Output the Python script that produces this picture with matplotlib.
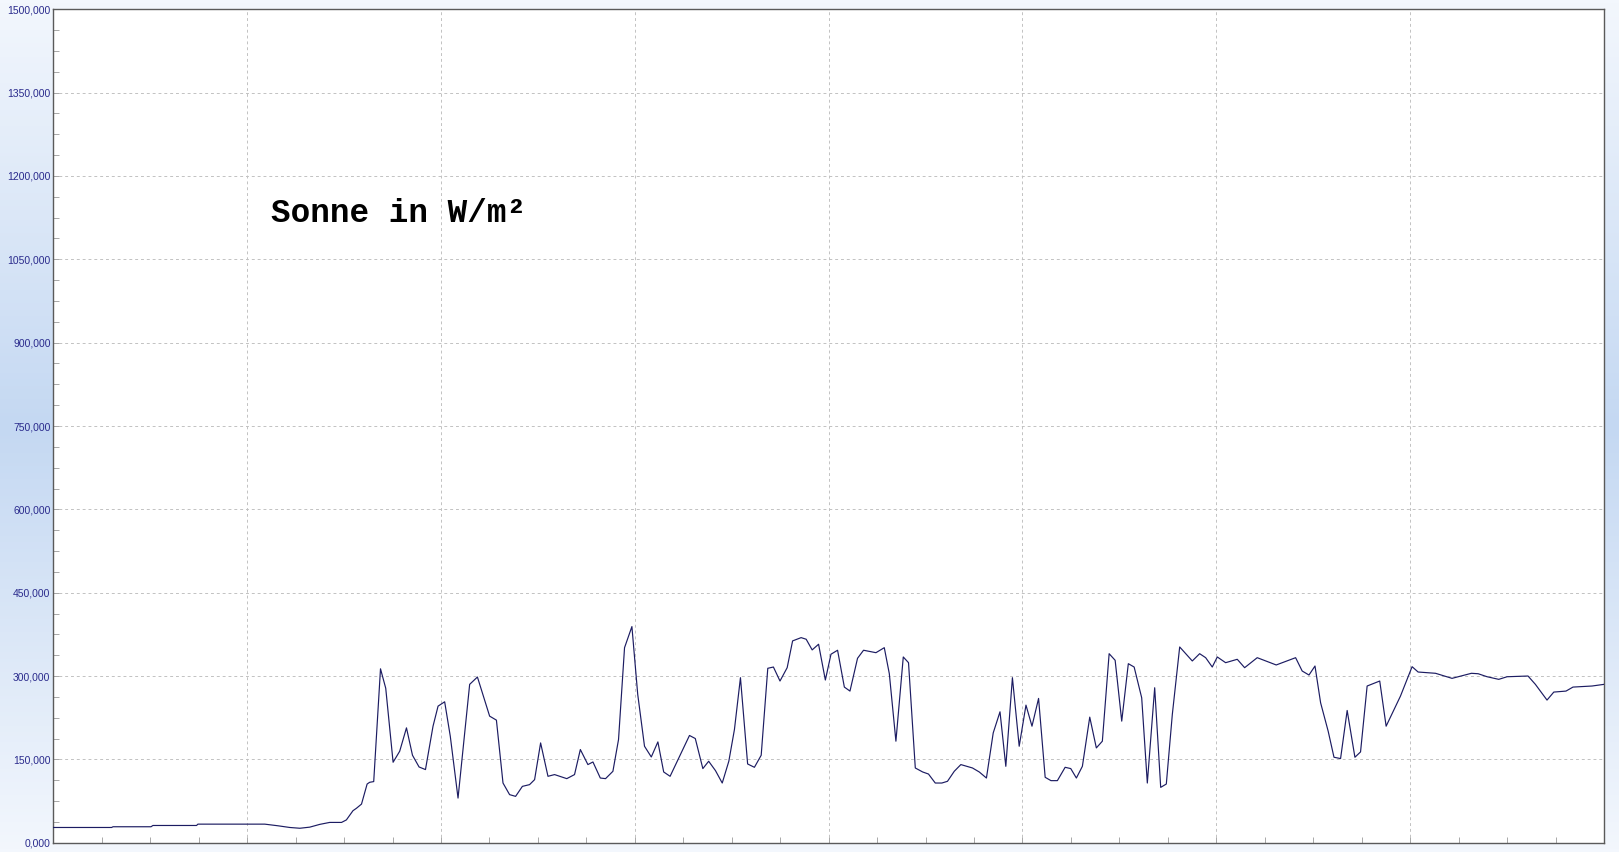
import numpy as np
import matplotlib
matplotlib.use("Agg")
import matplotlib.pyplot as plt
from matplotlib.ticker import MultipleLocator, FuncFormatter, NullFormatter
from matplotlib.colors import LinearSegmentedColormap

# time position in grid divisions (0..8), irradiance in W/m²
t = [0.000, 0.301, 0.308, 0.504, 0.514, 0.739, 0.746, 1.091, 1.158, 1.220,
     1.272, 1.323, 1.375, 1.426, 1.487, 1.512, 1.546, 1.564, 1.590, 1.619,
     1.632, 1.653, 1.688, 1.715, 1.753, 1.787, 1.822, 1.853, 1.887, 1.920,
     1.959, 1.985, 2.019, 2.048, 2.088, 2.148, 2.188, 2.251, 2.286, 2.320,
     2.354, 2.385, 2.420, 2.457, 2.483, 2.514, 2.552, 2.586, 2.649, 2.689,
     2.719, 2.758, 2.784, 2.822, 2.849, 2.887, 2.916, 2.947, 2.985, 3.015,
     3.050, 3.085, 3.119, 3.149, 3.182, 3.239, 3.282, 3.312, 3.351, 3.381,
     3.416, 3.451, 3.485, 3.514, 3.545, 3.582, 3.617, 3.652, 3.686, 3.715,
     3.749, 3.786, 3.814, 3.858, 3.884, 3.915, 3.948, 3.983, 4.012, 4.046,
     4.081, 4.110, 4.149, 4.180, 4.244, 4.287, 4.313, 4.347, 4.385, 4.412,
     4.447, 4.485, 4.515, 4.550, 4.584, 4.613, 4.648, 4.682, 4.742, 4.777,
     4.814, 4.849, 4.884, 4.914, 4.948, 4.983, 5.018, 5.049, 5.083, 5.117,
     5.147, 5.180, 5.220, 5.249, 5.278, 5.309, 5.347, 5.381, 5.412, 5.447,
     5.478, 5.512, 5.546, 5.576, 5.615, 5.644, 5.682, 5.713, 5.742, 5.773,
     5.811, 5.876, 5.914, 5.945, 5.979, 6.005, 6.048, 6.108, 6.146, 6.211,
     6.309, 6.409, 6.443, 6.478, 6.509, 6.538, 6.577, 6.607, 6.641, 6.675,
     6.715, 6.744, 6.778, 6.843, 6.876, 6.950, 7.010, 7.041, 7.131, 7.216,
     7.316, 7.351, 7.397, 7.457, 7.500, 7.608, 7.646, 7.706, 7.741, 7.804,
     7.840, 7.938, 8.000]
sonne = [27.4, 27.4, 28.7, 28.7, 31.0, 31.0, 33.4, 33.4, 30.5, 27.4,
         26.0, 28.0, 33.0, 36.5, 36.5, 41.0, 57.6, 62.0, 69.5, 105.6,
         108.7, 110.0, 313.0, 278.0, 144.8, 164.6, 206.7, 157.4, 136.3, 131.6,
         209.7, 245.8, 253.6, 191.7, 80.3, 285.0, 298.2, 227.8, 220.6, 107.4,
         86.5, 83.4, 101.4, 104.5, 113.5, 179.6, 119.5, 122.6, 115.3, 122.6,
         167.7, 140.6, 145.3, 116.4, 115.3, 128.5, 185.7, 351.0, 389.0, 267.0,
         173.6, 154.3, 181.4, 127.3, 119.5, 161.6, 193.0, 187.5, 133.4, 146.6,
         129.8, 107.4, 146.6, 203.8, 297.0, 141.7, 135.7, 157.4, 313.9, 316.2,
         291.0, 315.0, 363.2, 369.1, 366.2, 347.0, 357.2, 292.8, 339.2, 346.4,
         280.1, 272.9, 331.9, 346.4, 342.0, 351.0, 304.1, 182.7, 334.3, 324.0,
         134.5, 127.3, 123.6, 107.4, 107.4, 110.5, 128.5, 140.6, 134.5, 127.3,
         116.4, 197.6, 235.6, 137.5, 297.0, 173.6, 247.6, 209.7, 259.7, 117.7,
         111.7, 111.7, 135.7, 133.4, 116.4, 137.5, 226.0, 170.6, 182.7, 340.2,
         328.3, 218.8, 322.2, 316.2, 260.8, 107.4, 278.9, 99.6, 105.6, 230.9,
         352.3, 327.1, 340.2, 333.0, 316.2, 334.3, 324.0, 330.1, 315.0, 333.0,
         319.9, 333.0, 309.0, 301.8, 318.0, 251.8, 200.7, 153.8, 151.4, 238.0,
         153.8, 163.4, 282.0, 291.0, 209.7, 263.9, 316.8, 307.2, 304.9, 295.8,
         304.9, 304.1, 298.7, 294.0, 298.7, 300.0, 285.0, 256.7, 271.1, 272.9,
         280.1, 282.0, 285.0]

title_text = "Sonne in W/m²"

W, H, DPI = 1619, 852, 100
fig = plt.figure(figsize=(W / DPI, H / DPI), dpi=DPI)

# background gradient (light at top/bottom, blue in the middle)
bg = fig.add_axes([0, 0, 1, 1], zorder=0)
bg.set_axis_off()
cmap = LinearSegmentedColormap.from_list(
    "bg", ["#f3f7fd", "#c4d8f2", "#f3f7fd"])
grad = np.linspace(0, 1, 256).reshape(-1, 1)
bg.imshow(grad, aspect="auto", cmap=cmap, extent=[0, 1, 0, 1])

ax = fig.add_axes([53.3 / W, 1 - 842.7 / H, (1604 - 53.3) / W, (842.7 - 9.3) / H],
                  zorder=1)
ax.set_facecolor("white")
ax.plot(t, sonne, color="#1c1c62", lw=0.85, zorder=3)

ax.set_xlim(0, 8)
ax.set_ylim(0, 1500)
ax.xaxis.set_major_locator(MultipleLocator(1))
ax.xaxis.set_minor_locator(MultipleLocator(0.25))
ax.xaxis.set_major_formatter(NullFormatter())
ax.yaxis.set_major_locator(MultipleLocator(150))
ax.yaxis.set_minor_locator(MultipleLocator(37.5))
ax.yaxis.set_major_formatter(FuncFormatter(lambda v, p: f"{v:.3f}".replace(".", ",")))

ax.tick_params(axis="both", which="both", direction="in", color="#a8a8a8")
ax.tick_params(axis="both", which="major", length=4, width=0.7)
ax.tick_params(axis="both", which="minor", length=4, width=0.7)
ax.tick_params(axis="y", which="major", labelsize=7.5, labelcolor="#2a2a8c", pad=2)
ax.tick_params(axis="x", which="major", labelbottom=False)

for lab in ax.get_yticklabels():
    lab.set_family("Liberation Sans")

ax.grid(True, which="major", color="#c2c2c2", lw=0.7, linestyle=(0, (3, 3)), zorder=1)
for s in ax.spines.values():
    s.set_color("#5a5a5a")
    s.set_linewidth(1.0)

ax.text(270.5 / W, 1 - 221.5 / H, title_text, transform=fig.transFigure,
        family="Liberation Mono", fontweight="bold", fontsize=23.5,
        color="black", ha="left", va="baseline", zorder=5)

fig.savefig("out.png", dpi=DPI)
